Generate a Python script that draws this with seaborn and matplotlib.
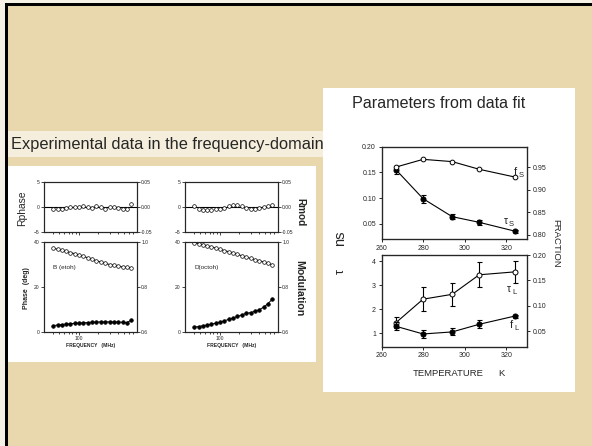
import numpy as np
import pandas as pd
import matplotlib
matplotlib.use("Agg")
import matplotlib.pyplot as plt
from matplotlib.patches import Rectangle
from matplotlib.ticker import FixedLocator, NullFormatter, NullLocator
import seaborn as sns

# ---------------- data ----------------
# frequency-domain data (MHz)
freq = [40, 47, 55, 64, 74, 87, 101, 118, 138, 161, 188, 220, 257, 300, 350, 409, 478, 558, 650]

b_phase = [2.8, 3.1, 3.3, 3.5, 3.7, 3.8, 4.0, 4.1, 4.2, 4.3, 4.4, 4.5, 4.5, 4.5, 4.4, 4.4, 4.3, 4.2, 5.2]
b_mod = [0.972, 0.968, 0.963, 0.958, 0.953, 0.948, 0.942, 0.936, 0.930, 0.923,
         0.917, 0.911, 0.905, 0.900, 0.896, 0.892, 0.889, 0.887, 0.886]
b_rphase = [-0.3, -0.4, -0.3, -0.2, 0.0, 0.1, 0.0, 0.2, 0.1, -0.1,
            0.2, 0.1, -0.3, 0.1, 0.0, -0.2, -0.4, -0.3, 0.6]

d_phase = [2.2, 2.4, 2.8, 3.1, 3.5, 3.9, 4.4, 5.0, 5.6, 6.2, 6.9, 7.6, 8.3, 8.6, 9.2, 9.9, 11.0, 12.6, 14.5]
d_mod = [0.997, 0.993, 0.988, 0.983, 0.978, 0.973, 0.968, 0.962, 0.957, 0.951,
         0.945, 0.939, 0.933, 0.927, 0.922, 0.917, 0.911, 0.905, 0.899]
d_rmod = [0.003, -0.004, -0.005, -0.006, -0.005, -0.004, -0.003, -0.002, 0.002, 0.004,
          0.005, 0.003, -0.002, -0.003, -0.004, -0.002, 0.001, 0.003, 0.005]

# parameters from data fit
temps = [267, 280, 294, 307, 324]
tau_s = [0.155, 0.099, 0.064, 0.053, 0.036]
tau_s_err = [0.008, 0.008, 0.005, 0.005, 0.003]
f_s = [0.950, 0.967, 0.962, 0.945, 0.928]
tau_l = [1.45, 2.42, 2.62, 3.43, 3.55]
tau_l_err = [0.22, 0.50, 0.48, 0.52, 0.45]
f_l = [0.060, 0.045, 0.049, 0.064, 0.080]
f_l_err = [0.008, 0.008, 0.007, 0.008, 0.003]

freq_ticks = [100]
temp_ticks = [260, 280, 300, 320]

# ---------------- style ----------------
sns.set_style("ticks")
plt.rcParams["font.family"] = ["Liberation Sans", "DejaVu Sans"]
plt.rcParams["axes.linewidth"] = 0.8

W, H = 592, 446
fig = plt.figure(figsize=(W / 100, H / 100), dpi=100)
fig.patch.set_facecolor("#e9d8ad")


def fx(x):
    return x / W


def fy(y):
    return 1 - y / H


def rect(x0, y0, x1, y1, color, z=0):
    fig.patches.append(Rectangle((fx(x0), fy(y1)), fx(x1) - fx(x0), fy(y0) - fy(y1),
                                 transform=fig.transFigure, facecolor=color,
                                 edgecolor="none", zorder=z))


def axes_px(x0, y0, x1, y1):
    return fig.add_axes([fx(x0), fy(y1), fx(x1) - fx(x0), fy(y0) - fy(y1)])


def ftext(x, y, s, **kw):
    fig.text(fx(x), fy(y), s, **kw)


# frame and panels
rect(0, 0, W, H, "#f6f1e6", z=-3)
rect(7.5, 6, W, H, "#e9d8ad", z=-2)
rect(5, 3, W, 6, "black", z=-1)
rect(5, 3, 7.5, H, "black", z=-1)
rect(7.5, 131, 323, 157, "#f5eedc", z=-1)
rect(7.5, 166, 316, 362, "white", z=-1)
rect(323, 88, 575, 392, "white", z=-1)

ftext(11, 144, "Experimental data in the frequency-domain", fontsize=11.8, va="center", ha="left")
ftext(352, 104, "Parameters from data fit", fontsize=11.6, va="center", ha="left")


# ---------------- left (frequency domain) ----------------
def freq_axes(ax, ylim, yticks, small):
    ax.set_xscale("log")
    ax.set_xlim(29, 800)
    ax.set_ylim(*ylim)
    ax.xaxis.set_major_locator(FixedLocator(freq_ticks))
    ax.xaxis.set_minor_locator(FixedLocator([40, 50, 60, 70, 80, 90, 200, 300, 400, 500, 600, 700]))
    ax.xaxis.set_minor_formatter(NullFormatter())
    ax.set_yticks(yticks)
    ax.tick_params(axis="both", which="both", labelsize=3.6, length=2, width=0.6, pad=1)
    ax.tick_params(axis="x", which="minor", length=1.5)
    ax.set_xlabel("")
    ax.set_ylabel("")
    for s in ax.spines.values():
        s.set_visible(True)
        s.set_linewidth(0.8)
    if small:
        ax.set_xticklabels([])
    else:
        ax.set_xticklabels([str(t) for t in freq_ticks])


line_kw = dict(color="black", linewidth=0.7, markersize=2.6, markeredgewidth=0.5)

for (x0, x1, ph, md, res, res_is_phase, lab) in [
    (44, 137, b_phase, b_mod, b_rphase, True, "B (etoh)"),
    (185, 278, d_phase, d_mod, d_rmod, False, "D(octoh)"),
]:
    # residuals
    axr = axes_px(x0, 182, x1, 232)
    axr2 = axr.twinx()
    if res_is_phase:
        axr.set_ylim(-5, 5)
        sns.scatterplot(x=freq, y=res, ax=axr, marker="o", s=7, facecolor="white",
                        edgecolor="black", linewidth=0.5, zorder=3)
    else:
        axr2.set_ylim(-0.05, 0.05)
        sns.scatterplot(x=freq, y=res, ax=axr2, marker="o", s=7, facecolor="white",
                        edgecolor="black", linewidth=0.5, zorder=3)
    axr.axhline(0, color="black", linewidth=0.8, zorder=2)
    freq_axes(axr, (-5, 5), [-5, 0, 5], True)
    axr2.set_ylim(-0.05, 0.05)
    axr2.set_yticks([-0.05, 0.0, 0.05])
    axr2.set_yticklabels(["-0.05", "0.00", "0.05"])
    axr2.tick_params(axis="y", labelsize=3.6, length=2, width=0.6, pad=1)
    axr2.set_ylabel("")

    # phase / modulation
    axm = axes_px(x0, 242, x1, 332)
    axm2 = axm.twinx()
    sns.lineplot(x=freq, y=ph, ax=axm, marker="o", markerfacecolor="black",
                 markeredgecolor="black", **line_kw)
    sns.lineplot(x=freq, y=md, ax=axm2, marker="o", markerfacecolor="white",
                 markeredgecolor="black", **line_kw)
    freq_axes(axm, (0, 40), [0, 20, 40], False)
    axm2.set_ylim(0.6, 1.0)
    axm2.set_yticks([0.6, 0.8, 1.0])
    axm2.set_yticklabels(["0.6", "0.8", "1.0"])
    axm2.tick_params(axis="y", labelsize=3.6, length=2, width=0.6, pad=1)
    axm2.set_ylabel("")
    axm.text(0.1, 0.72, lab, transform=axm.transAxes, fontsize=4.6, ha="left", va="center")
    fig.text(fx((x0 + x1) / 2 + 0.5), fy(346), "FREQUENCY   (MHz)", fontsize=3.6,
             fontweight="bold", ha="center", va="center")

ftext(22, 208, "Rphase", fontsize=7.4, rotation=90, ha="center", va="center")
ftext(27, 288, "Phase  (deg)", fontsize=5.0, rotation=90, ha="center", va="center", fontweight="bold")
ftext(300, 212, "Rmod", fontsize=7.2, rotation=-90, ha="center", va="center", fontweight="bold")
ftext(299, 288, "Modulation", fontsize=7.6, rotation=-90, ha="center", va="center", fontweight="bold")

# ---------------- right (fit parameters) ----------------
err_kw = dict(fmt="none", ecolor="black", elinewidth=0.8, capsize=1.8, capthick=0.8, zorder=2)


def temp_axes(ax):
    ax.set_xlim(260, 330)
    ax.set_xticks(temp_ticks)
    ax.tick_params(axis="both", labelsize=5.0, length=2.5, width=0.7, pad=1.5)
    ax.set_xlabel("")
    ax.set_ylabel("")
    for s in ax.spines.values():
        s.set_visible(True)
        s.set_linewidth(0.9)


axt = axes_px(381.5, 146.7, 527, 239.3)
axt2 = axt.twinx()
axt.errorbar(temps, tau_s, yerr=tau_s_err, **err_kw)
sns.lineplot(x=temps, y=tau_s, ax=axt, marker="o", markerfacecolor="black",
             markeredgecolor="black", color="black", linewidth=0.8, markersize=3.6)
sns.lineplot(x=temps, y=f_s, ax=axt2, marker="o", markerfacecolor="white",
             markeredgecolor="black", color="black", linewidth=0.8, markersize=3.4,
             markeredgewidth=0.7)
temp_axes(axt)
axt.set_ylim(0.02, 0.20)
axt.set_yticks([0.05, 0.10, 0.15, 0.20])
axt.set_yticklabels(["0.05", "0.10", "0.15", "0.20"])
axt2.set_ylim(0.79, 0.995)
axt2.set_yticks([0.80, 0.85, 0.90, 0.95])
axt2.set_yticklabels(["0.80", "0.85", "0.90", "0.95"])
axt2.tick_params(axis="y", labelsize=5.0, length=2.5, width=0.7, pad=1.5)
axt2.set_ylabel("")

axb = axes_px(381.5, 255, 527, 346.7)
axb2 = axb.twinx()
axb.errorbar(temps, tau_l, yerr=tau_l_err, **err_kw)
sns.lineplot(x=temps, y=tau_l, ax=axb, marker="o", markerfacecolor="white",
             markeredgecolor="black", color="black", linewidth=0.8, markersize=3.6,
             markeredgewidth=0.7)
axb2.errorbar(temps, f_l, yerr=f_l_err, **err_kw)
sns.lineplot(x=temps, y=f_l, ax=axb2, marker="o", markerfacecolor="black",
             markeredgecolor="black", color="black", linewidth=0.8, markersize=3.6)
temp_axes(axb)
axb.set_ylim(0.45, 4.25)
axb.set_yticks([1, 2, 3, 4])
axb2.set_ylim(0.02, 0.20)
axb2.set_yticks([0.05, 0.10, 0.15, 0.20])
axb2.set_yticklabels(["0.05", "0.10", "0.15", "0.20"])
axb2.tick_params(axis="y", labelsize=5.0, length=2.5, width=0.7, pad=1.5)
axb2.set_ylabel("")

# series labels
ftext(514, 172, "f", fontsize=8, ha="left", va="center")
ftext(518.5, 175.5, "S", fontsize=5.5, ha="left", va="center")
ftext(504, 221, "τ", fontsize=7.5, ha="left", va="center")
ftext(509, 224.5, "S", fontsize=5.5, ha="left", va="center")
ftext(507, 289, "τ", fontsize=7.5, ha="left", va="center")
ftext(512, 292.5, "L", fontsize=5.5, ha="left", va="center")
ftext(510, 325, "f", fontsize=8, ha="left", va="center")
ftext(514.5, 328.5, "L", fontsize=5.5, ha="left", va="center")

ftext(340, 238, "ns", fontsize=10.5, rotation=90, ha="center", va="center")
ftext(341, 271, "τ", fontsize=9, rotation=90, ha="center", va="center")
ftext(556, 243, "FRACTION", fontsize=6.8, rotation=-90, ha="center", va="center")
ftext(413, 373, "TEMPERATURE", fontsize=6.8, ha="left", va="center")
ftext(501, 373, "K", fontsize=6.8, ha="center", va="center")

fig.savefig("out.png", dpi=100, facecolor=fig.get_facecolor())
